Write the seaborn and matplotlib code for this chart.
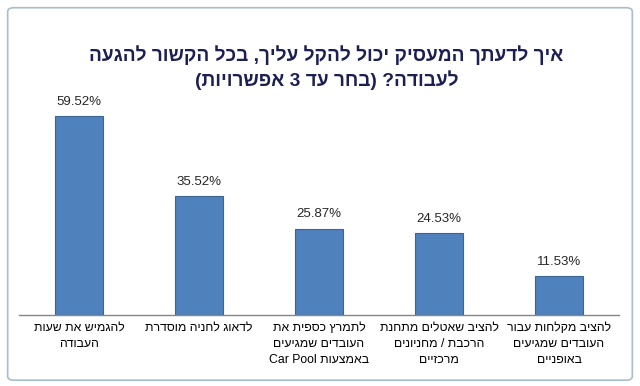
import re
import matplotlib
matplotlib.use("Agg")
import matplotlib.pyplot as plt
from matplotlib.patches import FancyBboxPatch
import seaborn as sns
import pandas as pd

# ---- data ----
title = "איך לדעתך המעסיק יכול להקל עליך, בכל הקשור להגעה\nלעבודה? (בחר עד 3 אפשרויות)"
categories = [
    "להגמיש את שעות\nהעבודה",
    "לדאוג לחניה מוסדרת",
    "לתמרץ כספית את\nהעובדים שמגיעים\nבאמצעות Car Pool",
    "להציב שאטלים מתחנת\nהרכבת / מחניונים\nמרכזיים",
    "להציב מקלחות עבור\nהעובדים שמגיעים\nבאופניים",
]
values = [59.52, 35.52, 25.87, 24.53, 11.53]
value_labels = ["59.52%", "35.52%", "25.87%", "24.53%", "11.53%"]


def rtl(s):
    """Convert logical-order Hebrew text to visual order, line by line."""
    out = []
    for line in s.split("\n"):
        r = line[::-1]
        r = re.sub(r"[A-Za-z0-9][A-Za-z0-9 .%]*[A-Za-z0-9]|[A-Za-z0-9]",
                   lambda m: m.group(0)[::-1], r)
        r = r.translate(str.maketrans("()", ")("))
        out.append(r)
    return "\n".join(out)


sns.set_theme(style="white")
plt.rcParams["font.family"] = ["Liberation Sans", "DejaVu Sans"]

fig = plt.figure(figsize=(6.4, 3.86), dpi=100)
fig.patch.set_facecolor("white")

# outer chart frame
frame = FancyBboxPatch((0.012, 0.015), 0.976, 0.965,
                       boxstyle="round,pad=0,rounding_size=0.01",
                       transform=fig.transFigure, fill=False,
                       edgecolor="#A9BCCB", linewidth=1.2, zorder=0)
fig.patches.append(frame)

ax = fig.add_axes([19 / 640, 71 / 386, 600 / 640, 234 / 386])
df = pd.DataFrame({"cat": [rtl(c) for c in categories], "val": values})
sns.barplot(data=df, x="cat", y="val", color="#4F81BD", width=0.4,
            saturation=1, edgecolor="#3B6493", linewidth=0.8, ax=ax)

ax.set_ylim(0, 70)
ax.set_xlim(-0.5, 4.5)
ax.set_xlabel("")
ax.set_ylabel("")
ax.set_yticks([])
for s in ["top", "left", "right"]:
    ax.spines[s].set_visible(False)
ax.spines["bottom"].set_color("#868686")
ax.spines["bottom"].set_linewidth(1)
ax.tick_params(axis="x", length=0, pad=5, labelsize=8.8, colors="#000000")
for lbl in ax.get_xticklabels():
    lbl.set_multialignment("center")
    lbl.set_linespacing(1.45)

for i, (v, t) in enumerate(zip(values, value_labels)):
    ax.annotate(t, (i, v), xytext=(0, 6), textcoords="offset points",
                ha="center", va="bottom", fontsize=9.5, color="#262626")

fig.text(0.51, 0.825, rtl(title), ha="center", va="center",
         fontsize=13.8, fontweight="bold", color="#1C1F52", linespacing=1.3)

fig.savefig("out.png", dpi=100, facecolor="white")
